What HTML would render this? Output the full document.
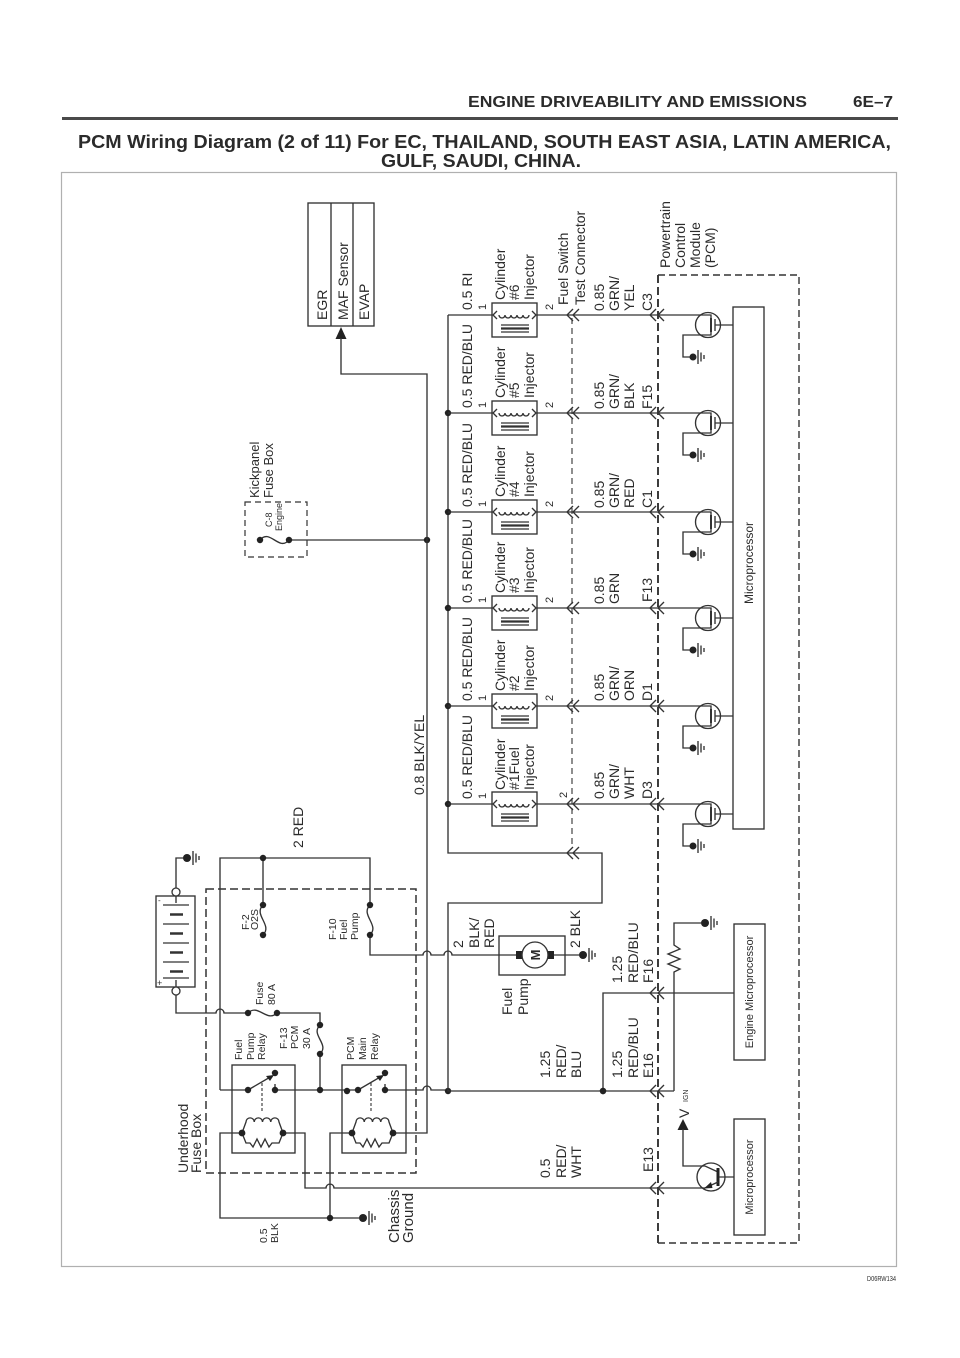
<!DOCTYPE html>
<html><head><meta charset="utf-8">
<style>
html,body{margin:0;padding:0;background:#fff}
svg{display:block}
path{fill:none}
text{font-family:"Liberation Sans",Arial,sans-serif;fill:#2b2b2b}
.w{stroke:#333;stroke-width:1.35;fill:none}
.dd{fill:#222}
.a{font-size:14px}
.s{font-size:11px}
.xs{font-size:9px}
.m{font-size:10.5px}
</style></head><body>
<svg width="960" height="1358" viewBox="0 0 960 1358" xmlns="http://www.w3.org/2000/svg">
<rect width="960" height="1358" fill="#fff"/>

<!-- Header -->
<text x="468" y="107" font-size="16" font-weight="bold" textLength="339" lengthAdjust="spacingAndGlyphs">ENGINE DRIVEABILITY AND EMISSIONS</text>
<text x="853" y="107" font-size="16" font-weight="bold" textLength="40" lengthAdjust="spacingAndGlyphs">6E–7</text>
<rect x="62" y="117" width="836" height="3" fill="#4a4a4a"/>
<text x="78" y="148" font-size="18" font-weight="bold" textLength="813" lengthAdjust="spacingAndGlyphs">PCM Wiring Diagram (2 of 11) For EC, THAILAND, SOUTH EAST ASIA, LATIN AMERICA,</text>
<text x="381" y="167" font-size="18" font-weight="bold" textLength="200" lengthAdjust="spacingAndGlyphs">GULF, SAUDI, CHINA.</text>

<!-- Frame -->
<rect x="61.5" y="172.5" width="835" height="1094" fill="none" stroke="#b0b0b0" stroke-width="1.2"/>
<text x="867" y="1281" font-size="7" textLength="29" lengthAdjust="spacingAndGlyphs">D06RW134</text>

<!-- EGR / MAF / EVAP box -->
<rect class="w" x="308" y="203" width="66" height="123"/>
<path class="w" d="M331,203V326M353,203V326"/>
<text class="a" transform="translate(327,320) rotate(-90)">EGR</text>
<text class="a" transform="translate(348,320) rotate(-90)">MAF Sensor</text>
<text class="a" transform="translate(369,320) rotate(-90)">EVAP</text>
<polygon points="341,327 335.5,339 346.5,339" fill="#222"/>

<!-- Kickpanel fuse box -->
<rect x="245" y="502" width="62" height="55" fill="none" stroke="#333" stroke-width="1.2" stroke-dasharray="6,4"/>
<text style="font-size:13px" transform="translate(259,498) rotate(-90)">Kickpanel</text>
<text style="font-size:13px" transform="translate(273,498) rotate(-90)">Fuse Box</text>
<text class="xs" transform="translate(272,527) rotate(-90)">C-8</text>
<text class="xs" transform="translate(282,531) rotate(-90)">Engine</text>
<path class="w" d="M260,540C270,528 279,552 289,540H427"/>
<circle cx="260" cy="540" r="3.2" class="dd"/><circle cx="289" cy="540" r="3.2" class="dd"/><circle cx="427" cy="540" r="3.2" class="dd"/>

<!-- 0.8 BLK/YEL feed -->
<path class="w" d="M393,1133H427V374H341V338"/>
<text class="a" transform="translate(424,795) rotate(-90)">0.8 BLK/YEL</text>
<text class="a" transform="translate(303,848) rotate(-90)">2 RED</text>

<!-- Battery -->
<rect class="w" x="156" y="896" width="39" height="91"/>
<path class="w" d="M176,896V903M176,980V987"/>
<path class="w" d="M163,905H189M163,924H189M163,943H189M163,962H189"/>
<path stroke="#333" stroke-width="2.4" d="M170,914.5H183M170,933.5H183M170,952.5H183M170,971.5H183"/>
<path class="w" d="M163,978H189"/>
<text style="font-size:8px" x="158" y="903">-</text>
<text style="font-size:9px" x="157" y="986">+</text>
<circle cx="176" cy="892" r="4" fill="#fff" stroke="#333" stroke-width="1.3"/>
<circle cx="176" cy="991" r="4" fill="#fff" stroke="#333" stroke-width="1.3"/>
<path class="w" d="M176,888V858H184"/>

<!-- Underhood fuse box -->
<rect x="206" y="889" width="210" height="284" fill="none" stroke="#333" stroke-width="1.5" stroke-dasharray="8,4"/>
<text class="a" transform="translate(188,1173) rotate(-90)">Underhood</text>
<text class="a" transform="translate(201,1173) rotate(-90)">Fuse Box</text>

<path class="w" d="M220,1090V858H370V905M263,858V905"/>
<path class="w" d="M263,905C253,915 273,925 263,935"/>
<path class="w" d="M370,905C360,915 380,925 370,935V955H423a4,4 0 0 1 8,0H444a4,4 0 0 1 8,0H516"/>
<text class="m" transform="translate(249,930) rotate(-90)">F-2</text>
<text class="m" transform="translate(258,930) rotate(-90)">O2S</text>
<text class="m" transform="translate(336,940) rotate(-90)">F-10</text>
<text class="m" transform="translate(347,940) rotate(-90)">Fuel</text>
<text class="m" transform="translate(358,940) rotate(-90)">Pump</text>

<path class="w" d="M176,995V1013H216a4,4 0 0 1 8,0H248C258,1003 267,1023 277,1013H320V1025C310,1035 330,1044 320,1054V1090"/>
<text class="m" transform="translate(263,1005) rotate(-90)">Fuse</text>
<text class="m" transform="translate(275,1005) rotate(-90)">80 A</text>
<text class="m" transform="translate(287,1049) rotate(-90)">F-13</text>
<text class="m" transform="translate(298,1049) rotate(-90)">PCM</text>
<text class="m" transform="translate(310,1049) rotate(-90)">30 A</text>
<text class="m" transform="translate(242,1060) rotate(-90)">Fuel</text>
<text class="m" transform="translate(254,1060) rotate(-90)">Pump</text>
<text class="m" transform="translate(265,1060) rotate(-90)">Relay</text>
<text class="m" transform="translate(354,1060) rotate(-90)">PCM</text>
<text class="m" transform="translate(366,1060) rotate(-90)">Main</text>
<text class="m" transform="translate(378,1060) rotate(-90)">Relay</text>

<!-- Relays -->
<rect class="w" x="232" y="1065" width="63" height="88"/>
<rect class="w" x="342" y="1065" width="64" height="88"/>
<path class="w" d="M220,1090H248M275,1090H358M275,1084V1090M385,1084V1090M385,1090H423a4,4 0 0 1 8,0H448"/>
<path class="w" d="M248,1090L272,1076M358,1090L382,1076"/>
<polygon points="274,1075 266,1076 270,1081" fill="#222"/>
<polygon points="384,1075 376,1076 380,1081" fill="#222"/>
<path stroke="#333" stroke-width="1.1" stroke-dasharray="3,2" d="M262,1083V1113M371,1083V1113"/>
<!-- coils -->
<path class="w" d="M242,1133L246,1122a4.1,4.1 0 0 1 8.25,0a4.1,4.1 0 0 1 8.25,0a4.1,4.1 0 0 1 8.25,0a4.1,4.1 0 0 1 8.25,0L283,1133"/>
<path class="w" d="M242,1133L246,1143H250l3,4l4,-8l4,8l4,-8l4,8l3,-4H279L283,1133"/>
<path class="w" d="M352,1133L356,1122a4.1,4.1 0 0 1 8.25,0a4.1,4.1 0 0 1 8.25,0a4.1,4.1 0 0 1 8.25,0a4.1,4.1 0 0 1 8.25,0L393,1133"/>
<path class="w" d="M352,1133L356,1143H360l3,4l4,-8l4,8l4,-8l4,8l3,-4H389L393,1133"/>
<path class="w" d="M242,1133H220V1218H359M283,1133H305V1188H326a4,4 0 0 1 8,0H705M352,1133H330V1218"/>
<g class="dd">
<circle cx="263" cy="858" r="3.2"/><circle cx="263" cy="905" r="3.2"/><circle cx="263" cy="935" r="3.2"/>
<circle cx="370" cy="905" r="3.2"/><circle cx="370" cy="935" r="3.2"/>
<circle cx="248" cy="1013" r="3.2"/><circle cx="277" cy="1013" r="3.2"/>
<circle cx="320" cy="1025" r="3.2"/><circle cx="320" cy="1054" r="3.2"/><circle cx="320" cy="1090" r="3.2"/>
<circle cx="248" cy="1090" r="3.2"/><circle cx="275" cy="1073" r="3.2"/><circle cx="275" cy="1090" r="3.2"/>
<circle cx="347" cy="1091" r="3.2"/><circle cx="358" cy="1090" r="3.2"/><circle cx="385" cy="1073" r="3.2"/><circle cx="385" cy="1090" r="3.2"/>
<circle cx="242" cy="1133" r="3.4"/><circle cx="283" cy="1133" r="3.4"/><circle cx="352" cy="1133" r="3.4"/><circle cx="393" cy="1133" r="3.4"/>
<circle cx="330" cy="1218" r="3.2"/><circle cx="448" cy="1091" r="3.2"/><circle cx="603" cy="1091" r="3.2"/>
</g>
<text class="m" transform="translate(267,1243) rotate(-90)">0.5</text>
<text class="m" transform="translate(278,1243) rotate(-90)">BLK</text>
<text style="font-size:15px" transform="translate(399,1243) rotate(-90)">Chassis</text>
<text style="font-size:15px" transform="translate(413,1243) rotate(-90)">Ground</text>

<!-- Grounds -->
<g>
<circle cx="187" cy="858" r="4" class="dd"/><path class="w" d="M193,851V865M196,853.5V862.5M199,856V860"/>
<circle cx="363" cy="1218" r="4" class="dd"/><path class="w" d="M369,1211V1225M372,1213.5V1222.5M375,1216V1220"/>
<circle cx="583" cy="955" r="4" class="dd"/><path class="w" d="M589,948V962M592,950.5V959.5M595,953V957"/>
<circle cx="705" cy="923" r="4" class="dd"/><path class="w" d="M711,916V930M714,918.5V927.5M717,921V925"/>
</g>

<!-- Fuel pump -->
<rect class="w" x="499" y="936" width="66" height="39"/>
<rect x="516" y="951" width="6" height="8" fill="#222"/>
<rect x="548" y="951" width="6" height="8" fill="#222"/>
<circle cx="535" cy="955" r="13" fill="#fff" stroke="#333" stroke-width="1.35"/>
<text transform="translate(540,955) rotate(-90)" text-anchor="middle" font-size="13" font-weight="bold">M</text>
<path class="w" d="M554,955H579"/>
<text class="a" transform="translate(463,948) rotate(-90)">2</text>
<text class="a" transform="translate(479,948) rotate(-90)">BLK/</text>
<text class="a" transform="translate(494,948) rotate(-90)">RED</text>
<text class="a" transform="translate(580,948) rotate(-90)">2 BLK</text>
<text class="a" transform="translate(512,1015) rotate(-90)">Fuel</text>
<text class="a" transform="translate(528,1015) rotate(-90)">Pump</text>

<!-- Bus -->
<path class="w" d="M448,315V853H602V903H448V1091H674M603,1091V993H734"/>
<path class="w" d="M573,847L567,853L573,859M579,847L573,853L579,859"/>
<path stroke="#333" stroke-width="1.1" stroke-dasharray="6,4" d="M572,318V848"/>
<text class="a" transform="translate(568,305) rotate(-90)">Fuel Switch</text>
<text class="a" transform="translate(585,305) rotate(-90)">Test Connector</text>

<!-- PCM box -->
<path stroke="#333" stroke-width="1.9" stroke-dasharray="8,4" fill="none" d="M658,275V1243"/>
<path stroke="#333" stroke-width="1.4" stroke-dasharray="7,4" fill="none" d="M658,275H799V1243H658"/>
<text class="a" transform="translate(670,268) rotate(-90)">Powertrain</text>
<text class="a" transform="translate(685,268) rotate(-90)">Control</text>
<text class="a" transform="translate(700,268) rotate(-90)">Module</text>
<text class="a" transform="translate(715,268) rotate(-90)">(PCM)</text>
<rect class="w" x="733" y="307" width="31" height="522"/>
<text transform="translate(753,563) rotate(-90)" text-anchor="middle" font-size="12">Microprocessor</text>

<!-- Rows -->
<g transform="translate(0,315)">
<path class="w" d="M448,0H492M537,0H711V3"/>
<rect class="w" x="492" y="-12" width="45" height="34"/>
<path class="w" d="M497,-4L493,0L497,4M499,0a3,3 0 0 0 6,0a3,3 0 0 0 6,0a3,3 0 0 0 6,0a3,3 0 0 0 6,0a3,3 0 0 0 6,0M532,-4L536,0L532,4M501,10H529M501,17H529"/>
<path stroke="#333" stroke-width="2.2" d="M501,13.5H529"/>
<path class="w" d="M573,-6L567,0L573,6M579,-6L573,0L579,6M656,-6L650,0L656,6M664,-6L658,0L664,6"/>
<circle class="w" cx="708" cy="10" r="12.5"/>
<path stroke="#333" stroke-width="2" d="M711,3V17"/>
<path class="w" d="M715,4V16M711,17V20H683V42H690M715,10H733"/>
<circle cx="693" cy="42" r="3.5" class="dd"/><path class="w" d="M698,35V49M701,37.5V46.5M704,40V44"/>
<text class="a" transform="translate(472,-5) rotate(-90)">0.5 RI</text>
<text class="s" transform="translate(486,-5) rotate(-90)">1</text>
<text class="a" transform="translate(505,-15) rotate(-90)">Cylinder</text>
<text class="a" transform="translate(519,-15) rotate(-90)">#6</text>
<text class="a" transform="translate(534,-15) rotate(-90)">Injector</text>
<text class="s" transform="translate(553,-5) rotate(-90)">2</text>
<text class="a" transform="translate(604,-4) rotate(-90)">0.85</text>
<text class="a" transform="translate(619,-4) rotate(-90)">GRN/</text>
<text class="a" transform="translate(634,-4) rotate(-90)">YEL</text>
<text class="a" transform="translate(652,-4) rotate(-90)">C3</text>
</g>

<g transform="translate(0,413)">
<circle cx="448" cy="0" r="3.2" class="dd"/>
<path class="w" d="M448,0H492M537,0H711V3"/>
<rect class="w" x="492" y="-12" width="45" height="34"/>
<path class="w" d="M497,-4L493,0L497,4M499,0a3,3 0 0 0 6,0a3,3 0 0 0 6,0a3,3 0 0 0 6,0a3,3 0 0 0 6,0a3,3 0 0 0 6,0M532,-4L536,0L532,4M501,10H529M501,17H529"/>
<path stroke="#333" stroke-width="2.2" d="M501,13.5H529"/>
<path class="w" d="M573,-6L567,0L573,6M579,-6L573,0L579,6M656,-6L650,0L656,6M664,-6L658,0L664,6"/>
<circle class="w" cx="708" cy="10" r="12.5"/>
<path stroke="#333" stroke-width="2" d="M711,3V17"/>
<path class="w" d="M715,4V16M711,17V20H683V42H690M715,10H733"/>
<circle cx="693" cy="42" r="3.5" class="dd"/><path class="w" d="M698,35V49M701,37.5V46.5M704,40V44"/>
<text class="a" transform="translate(472,-5) rotate(-90)">0.5 RED/BLU</text>
<text class="s" transform="translate(486,-5) rotate(-90)">1</text>
<text class="a" transform="translate(505,-15) rotate(-90)">Cylinder</text>
<text class="a" transform="translate(519,-15) rotate(-90)">#5</text>
<text class="a" transform="translate(534,-15) rotate(-90)">Injector</text>
<text class="s" transform="translate(553,-5) rotate(-90)">2</text>
<text class="a" transform="translate(604,-4) rotate(-90)">0.85</text>
<text class="a" transform="translate(619,-4) rotate(-90)">GRN/</text>
<text class="a" transform="translate(634,-4) rotate(-90)">BLK</text>
<text class="a" transform="translate(652,-4) rotate(-90)">F15</text>
</g>

<g transform="translate(0,512)">
<circle cx="448" cy="0" r="3.2" class="dd"/>
<path class="w" d="M448,0H492M537,0H711V3"/>
<rect class="w" x="492" y="-12" width="45" height="34"/>
<path class="w" d="M497,-4L493,0L497,4M499,0a3,3 0 0 0 6,0a3,3 0 0 0 6,0a3,3 0 0 0 6,0a3,3 0 0 0 6,0a3,3 0 0 0 6,0M532,-4L536,0L532,4M501,10H529M501,17H529"/>
<path stroke="#333" stroke-width="2.2" d="M501,13.5H529"/>
<path class="w" d="M573,-6L567,0L573,6M579,-6L573,0L579,6M656,-6L650,0L656,6M664,-6L658,0L664,6"/>
<circle class="w" cx="708" cy="10" r="12.5"/>
<path stroke="#333" stroke-width="2" d="M711,3V17"/>
<path class="w" d="M715,4V16M711,17V20H683V42H690M715,10H733"/>
<circle cx="693" cy="42" r="3.5" class="dd"/><path class="w" d="M698,35V49M701,37.5V46.5M704,40V44"/>
<text class="a" transform="translate(472,-5) rotate(-90)">0.5 RED/BLU</text>
<text class="s" transform="translate(486,-5) rotate(-90)">1</text>
<text class="a" transform="translate(505,-15) rotate(-90)">Cylinder</text>
<text class="a" transform="translate(519,-15) rotate(-90)">#4</text>
<text class="a" transform="translate(534,-15) rotate(-90)">Injector</text>
<text class="s" transform="translate(553,-5) rotate(-90)">2</text>
<text class="a" transform="translate(604,-4) rotate(-90)">0.85</text>
<text class="a" transform="translate(619,-4) rotate(-90)">GRN/</text>
<text class="a" transform="translate(634,-4) rotate(-90)">RED</text>
<text class="a" transform="translate(652,-4) rotate(-90)">C1</text>
</g>

<g transform="translate(0,608)">
<circle cx="448" cy="0" r="3.2" class="dd"/>
<path class="w" d="M448,0H492M537,0H711V3"/>
<rect class="w" x="492" y="-12" width="45" height="34"/>
<path class="w" d="M497,-4L493,0L497,4M499,0a3,3 0 0 0 6,0a3,3 0 0 0 6,0a3,3 0 0 0 6,0a3,3 0 0 0 6,0a3,3 0 0 0 6,0M532,-4L536,0L532,4M501,10H529M501,17H529"/>
<path stroke="#333" stroke-width="2.2" d="M501,13.5H529"/>
<path class="w" d="M573,-6L567,0L573,6M579,-6L573,0L579,6M656,-6L650,0L656,6M664,-6L658,0L664,6"/>
<circle class="w" cx="708" cy="10" r="12.5"/>
<path stroke="#333" stroke-width="2" d="M711,3V17"/>
<path class="w" d="M715,4V16M711,17V20H683V42H690M715,10H733"/>
<circle cx="693" cy="42" r="3.5" class="dd"/><path class="w" d="M698,35V49M701,37.5V46.5M704,40V44"/>
<text class="a" transform="translate(472,-5) rotate(-90)">0.5 RED/BLU</text>
<text class="s" transform="translate(486,-5) rotate(-90)">1</text>
<text class="a" transform="translate(505,-15) rotate(-90)">Cylinder</text>
<text class="a" transform="translate(519,-15) rotate(-90)">#3</text>
<text class="a" transform="translate(534,-15) rotate(-90)">Injector</text>
<text class="s" transform="translate(553,-5) rotate(-90)">2</text>
<text class="a" transform="translate(604,-4) rotate(-90)">0.85</text>
<text class="a" transform="translate(619,-4) rotate(-90)">GRN</text>
<text class="a" transform="translate(652,-6) rotate(-90)">F13</text>
</g>

<g transform="translate(0,706)">
<circle cx="448" cy="0" r="3.2" class="dd"/>
<path class="w" d="M448,0H492M537,0H711V3"/>
<rect class="w" x="492" y="-12" width="45" height="34"/>
<path class="w" d="M497,-4L493,0L497,4M499,0a3,3 0 0 0 6,0a3,3 0 0 0 6,0a3,3 0 0 0 6,0a3,3 0 0 0 6,0a3,3 0 0 0 6,0M532,-4L536,0L532,4M501,10H529M501,17H529"/>
<path stroke="#333" stroke-width="2.2" d="M501,13.5H529"/>
<path class="w" d="M573,-6L567,0L573,6M579,-6L573,0L579,6M656,-6L650,0L656,6M664,-6L658,0L664,6"/>
<circle class="w" cx="708" cy="10" r="12.5"/>
<path stroke="#333" stroke-width="2" d="M711,3V17"/>
<path class="w" d="M715,4V16M711,17V20H683V42H690M715,10H733"/>
<circle cx="693" cy="42" r="3.5" class="dd"/><path class="w" d="M698,35V49M701,37.5V46.5M704,40V44"/>
<text class="a" transform="translate(472,-5) rotate(-90)">0.5 RED/BLU</text>
<text class="s" transform="translate(486,-5) rotate(-90)">1</text>
<text class="a" transform="translate(505,-15) rotate(-90)">Cylinder</text>
<text class="a" transform="translate(519,-15) rotate(-90)">#2</text>
<text class="a" transform="translate(534,-15) rotate(-90)">Injector</text>
<text class="s" transform="translate(553,-5) rotate(-90)">2</text>
<text class="a" transform="translate(604,-5) rotate(-90)">0.85</text>
<text class="a" transform="translate(619,-5) rotate(-90)">GRN/</text>
<text class="a" transform="translate(634,-5) rotate(-90)">ORN</text>
<text class="a" transform="translate(652,-5) rotate(-90)">D1</text>
</g>

<g transform="translate(0,804)">
<circle cx="448" cy="0" r="3.2" class="dd"/>
<path class="w" d="M448,0H492M537,0H711V3"/>
<rect class="w" x="492" y="-12" width="45" height="34"/>
<path class="w" d="M497,-4L493,0L497,4M499,0a3,3 0 0 0 6,0a3,3 0 0 0 6,0a3,3 0 0 0 6,0a3,3 0 0 0 6,0a3,3 0 0 0 6,0M532,-4L536,0L532,4M501,10H529M501,17H529"/>
<path stroke="#333" stroke-width="2.2" d="M501,13.5H529"/>
<path class="w" d="M573,-6L567,0L573,6M579,-6L573,0L579,6M656,-6L650,0L656,6M664,-6L658,0L664,6"/>
<circle class="w" cx="708" cy="10" r="12.5"/>
<path stroke="#333" stroke-width="2" d="M711,3V17"/>
<path class="w" d="M715,4V16M711,17V20H683V42H690M715,10H733"/>
<circle cx="693" cy="42" r="3.5" class="dd"/><path class="w" d="M698,35V49M701,37.5V46.5M704,40V44"/>
<text class="a" transform="translate(472,-5) rotate(-90)">0.5 RED/BLU</text>
<text class="s" transform="translate(486,-5) rotate(-90)">1</text>
<text class="a" transform="translate(505,-14) rotate(-90)">Cylinder</text>
<text class="a" transform="translate(519,-14) rotate(-90)">#1Fuel</text>
<text class="a" transform="translate(534,-14) rotate(-90)">Injector</text>
<text class="s" transform="translate(567,-6) rotate(-90)">2</text>
<text class="a" transform="translate(604,-5) rotate(-90)">0.85</text>
<text class="a" transform="translate(619,-5) rotate(-90)">GRN/</text>
<text class="a" transform="translate(634,-5) rotate(-90)">WHT</text>
<text class="a" transform="translate(652,-5) rotate(-90)">D3</text>
</g>

<!-- Lower PCM section -->
<path class="w" d="M656,987L650,993L656,999M664,987L658,993L664,999"/>
<path class="w" d="M656,1085L650,1091L656,1097M664,1085L658,1091L664,1097"/>
<path class="w" d="M656,1182L650,1188L656,1194M664,1182L658,1188L664,1194"/>
<path class="w" d="M674,1091V972l6,-3l-12,-5l12,-5l-12,-5l12,-5l-6,-4V923H701"/>
<rect class="w" x="734" y="924" width="31" height="136"/>
<text transform="translate(753,992) rotate(-90)" text-anchor="middle" font-size="11">Engine Microprocessor</text>
<text class="a" transform="translate(622,983) rotate(-90)">1.25</text>
<text class="a" transform="translate(638,983) rotate(-90)">RED/BLU</text>
<text class="a" transform="translate(653,983) rotate(-90)">F16</text>
<text class="a" transform="translate(622,1078) rotate(-90)">1.25</text>
<text class="a" transform="translate(638,1078) rotate(-90)">RED/BLU</text>
<text class="a" transform="translate(653,1078) rotate(-90)">E16</text>
<text class="a" transform="translate(550,1078) rotate(-90)">1.25</text>
<text class="a" transform="translate(566,1078) rotate(-90)">RED/</text>
<text class="a" transform="translate(581,1078) rotate(-90)">BLU</text>
<text class="a" transform="translate(550,1178) rotate(-90)">0.5</text>
<text class="a" transform="translate(566,1178) rotate(-90)">RED/</text>
<text class="a" transform="translate(581,1178) rotate(-90)">WHT</text>
<text class="a" transform="translate(653,1172) rotate(-90)">E13</text>

<!-- V IGN and transistor -->
<polygon points="683,1119 677.5,1130 688.5,1130" fill="#222"/>
<path class="w" d="M683,1129V1166H705L718,1172"/>
<text class="a" transform="translate(689,1118) rotate(-90)">V</text>
<text style="font-size:7px" transform="translate(688,1102) rotate(-90)">IGN</text>
<circle class="w" cx="711" cy="1177" r="14"/>
<path stroke="#222" stroke-width="3" d="M718,1168V1186"/>
<path class="w" d="M718,1182L705,1188M719,1177H734"/>
<polygon points="704,1188.5 711,1182 712.5,1188" fill="#222"/>
<rect class="w" x="734" y="1119" width="31" height="116"/>
<text transform="translate(753,1177) rotate(-90)" text-anchor="middle" font-size="11">Microprocessor</text>
<circle cx="603" cy="1091" r="3.2" class="dd"/>
</svg>
</body></html>
